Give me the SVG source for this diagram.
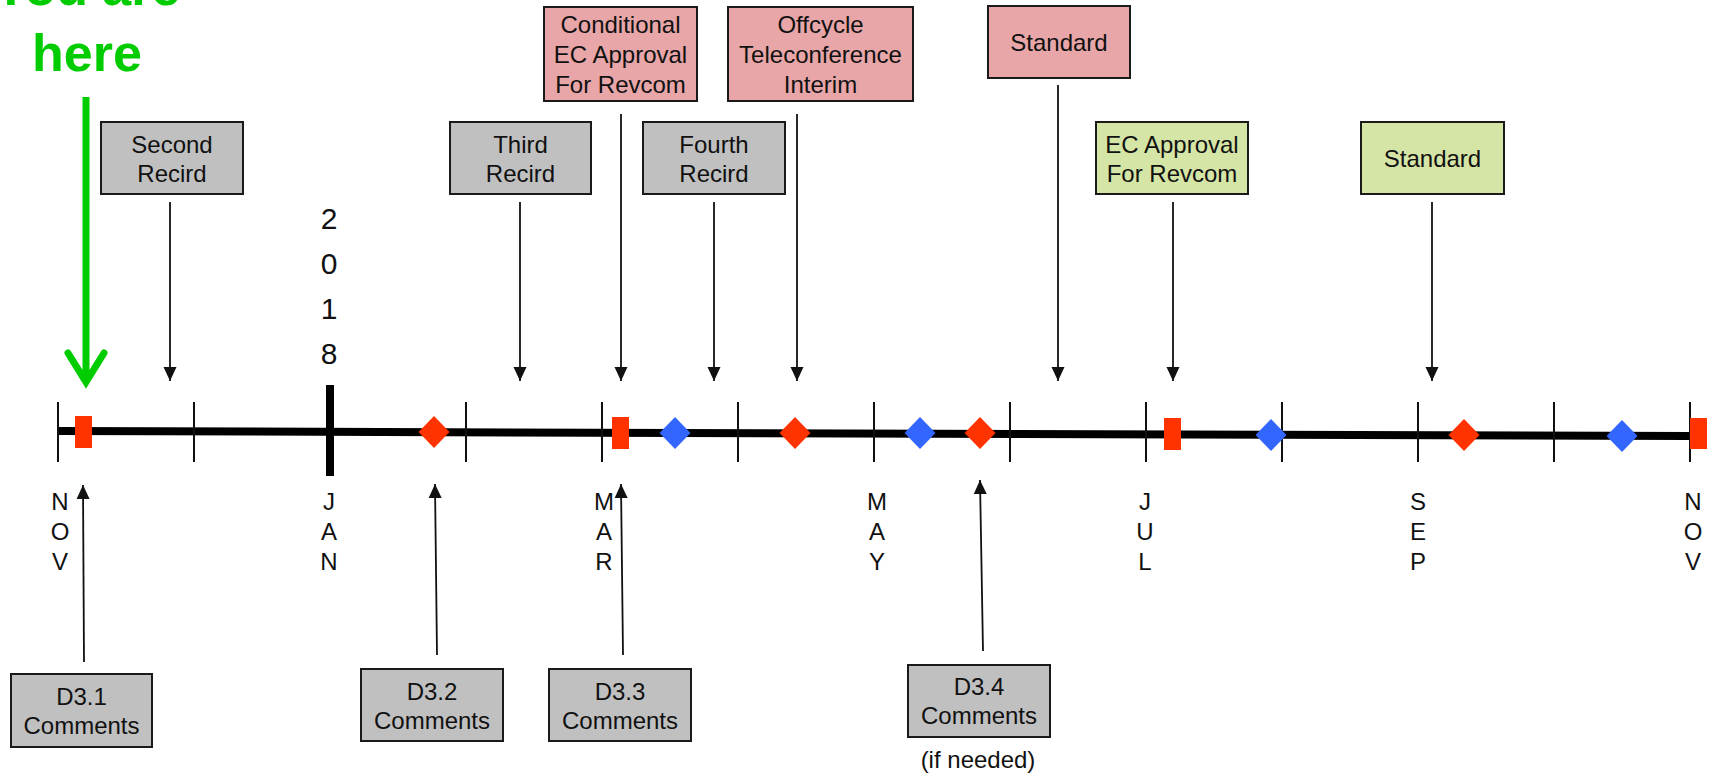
<svg xmlns="http://www.w3.org/2000/svg" width="1721" height="774" viewBox="0 0 1721 774">
<style>
.t{font-family:"Liberation Sans",Arial,sans-serif;font-size:24px;fill:#111;text-anchor:middle}
.gray{fill:#c0c0c0;stroke:#1a1a1a;stroke-width:2}
.pink{fill:#e8a6a8;stroke:#1a1a1a;stroke-width:2}
.green{fill:#d5e5a6;stroke:#1a1a1a;stroke-width:2}
.conn{stroke:#111;stroke-width:1.8;fill:none}
.tick{stroke:#111;stroke-width:2}
.red{fill:#ff3300}
.blue{fill:#3366ff}
.month{font-family:"Liberation Sans",Arial,sans-serif;font-size:24px;fill:#111;text-anchor:middle}
.yr{font-family:"Liberation Sans",Arial,sans-serif;font-size:30px;fill:#111;text-anchor:middle}
</style>
<defs>
<marker id="ah" markerUnits="userSpaceOnUse" markerWidth="14" markerHeight="14" viewBox="0 0 14 14" refX="14" refY="7" orient="auto">
<path d="M0,0.5 L14,7 L0,13.5 z" fill="#111"/>
</marker>
</defs>
<rect width="1721" height="774" fill="#fff"/>

<!-- You are here -->
<g id="you-are-here">
<text x="87" y="5" font-family="Liberation Sans,Arial,sans-serif" font-size="52" font-weight="bold" fill="#00cc00" text-anchor="middle">You are</text>
<text x="87" y="71" font-family="Liberation Sans,Arial,sans-serif" font-size="52" font-weight="bold" fill="#00cc00" text-anchor="middle">here</text>
<line x1="86" y1="97" x2="86" y2="380" stroke="#00cc00" stroke-width="7"/>
<polyline points="68,353 86,382 104,353" fill="none" stroke="#00cc00" stroke-width="7" stroke-linecap="round" stroke-linejoin="miter"/>
</g>

<!-- Timeline -->
<g id="timeline">
<line x1="58" y1="431" x2="1690" y2="436" stroke="#000" stroke-width="8"/>
<line class="tick" x1="58" y1="402" x2="58" y2="462"/>
<line class="tick" x1="194" y1="402" x2="194" y2="462"/>
<line x1="330" y1="385" x2="330" y2="476" stroke="#000" stroke-width="8"/>
<line class="tick" x1="466" y1="402" x2="466" y2="462"/>
<line class="tick" x1="602" y1="402" x2="602" y2="462"/>
<line class="tick" x1="738" y1="402" x2="738" y2="462"/>
<line class="tick" x1="874" y1="402" x2="874" y2="462"/>
<line class="tick" x1="1010" y1="402" x2="1010" y2="462"/>
<line class="tick" x1="1146" y1="402" x2="1146" y2="462"/>
<line class="tick" x1="1282" y1="402" x2="1282" y2="462"/>
<line class="tick" x1="1418" y1="402" x2="1418" y2="462"/>
<line class="tick" x1="1554" y1="402" x2="1554" y2="462"/>
<line class="tick" x1="1690" y1="402" x2="1690" y2="462"/>
</g>

<g id="year">
<text class="yr" x="329" y="229">2</text>
<text class="yr" x="329" y="274">0</text>
<text class="yr" x="329" y="319">1</text>
<text class="yr" x="329" y="364">8</text>
</g>

<!-- markers on the line -->
<g id="markers">
<rect class="red" x="75" y="416" width="17" height="32"/>
<polygon class="red" points="434,416 449.5,432 434,448 418.5,432"/>
<rect class="red" x="612" y="417" width="17" height="32"/>
<polygon class="blue" points="675,417 690.5,433 675,449 659.5,433"/>
<polygon class="red" points="795,417 810.5,433 795,449 779.5,433"/>
<polygon class="blue" points="920,417 935.5,433 920,449 904.5,433"/>
<polygon class="red" points="980,417 995.5,433 980,449 964.5,433"/>
<rect class="red" x="1164" y="418" width="17" height="32"/>
<polygon class="blue" points="1271,419 1286.5,435 1271,451 1255.5,435"/>
<polygon class="red" points="1464,419 1479.5,435 1464,451 1448.5,435"/>
<polygon class="blue" points="1622,420 1637.5,436 1622,452 1606.5,436"/>
<rect class="red" x="1690" y="418" width="17" height="31"/>
</g>

<!-- month labels -->
<g id="months">
<text class="month" x="60" y="510">N</text><text class="month" x="60" y="540">O</text><text class="month" x="60" y="570">V</text>
<text class="month" x="329" y="510">J</text><text class="month" x="329" y="540">A</text><text class="month" x="329" y="570">N</text>
<text class="month" x="604" y="510">M</text><text class="month" x="604" y="540">A</text><text class="month" x="604" y="570">R</text>
<text class="month" x="877" y="510">M</text><text class="month" x="877" y="540">A</text><text class="month" x="877" y="570">Y</text>
<text class="month" x="1145" y="510">J</text><text class="month" x="1145" y="540">U</text><text class="month" x="1145" y="570">L</text>
<text class="month" x="1418" y="510">S</text><text class="month" x="1418" y="540">E</text><text class="month" x="1418" y="570">P</text>
<text class="month" x="1693" y="510">N</text><text class="month" x="1693" y="540">O</text><text class="month" x="1693" y="570">V</text>
</g>

<!-- connectors -->
<g id="connectors">
<line class="conn" x1="170" y1="202" x2="170" y2="381" marker-end="url(#ah)"/>
<line class="conn" x1="520" y1="202" x2="520" y2="381" marker-end="url(#ah)"/>
<line class="conn" x1="621" y1="114" x2="621" y2="381" marker-end="url(#ah)"/>
<line class="conn" x1="714" y1="202" x2="714" y2="381" marker-end="url(#ah)"/>
<line class="conn" x1="797" y1="114" x2="797" y2="381" marker-end="url(#ah)"/>
<line class="conn" x1="1058" y1="85" x2="1058" y2="381" marker-end="url(#ah)"/>
<line class="conn" x1="1173" y1="202" x2="1173" y2="381" marker-end="url(#ah)"/>
<line class="conn" x1="1432" y1="202" x2="1432" y2="381" marker-end="url(#ah)"/>
<line class="conn" x1="84" y1="662" x2="83" y2="485" marker-end="url(#ah)"/>
<line class="conn" x1="437" y1="655" x2="435" y2="484" marker-end="url(#ah)"/>
<line class="conn" x1="623" y1="655" x2="621" y2="484" marker-end="url(#ah)"/>
<line class="conn" x1="983" y1="651" x2="980" y2="480" marker-end="url(#ah)"/>
</g>

<!-- top nodes -->
<g id="second-recird">
<rect class="gray" x="101" y="122" width="142" height="72"/>
<text class="t" x="172" y="153">Second</text><text class="t" x="172" y="182">Recird</text>
</g>
<g id="third-recird">
<rect class="gray" x="450" y="122" width="141" height="72"/>
<text class="t" x="520.5" y="153">Third</text><text class="t" x="520.5" y="182">Recird</text>
</g>
<g id="fourth-recird">
<rect class="gray" x="643" y="122" width="142" height="72"/>
<text class="t" x="714" y="153">Fourth</text><text class="t" x="714" y="182">Recird</text>
</g>
<g id="conditional-ec">
<rect class="pink" x="544" y="7" width="153" height="94"/>
<text class="t" x="620.5" y="33">Conditional</text><text class="t" x="620.5" y="63">EC Approval</text><text class="t" x="620.5" y="93">For Revcom</text>
</g>
<g id="offcycle">
<rect class="pink" x="728" y="7" width="185" height="94"/>
<text class="t" x="820.5" y="33">Offcycle</text><text class="t" x="820.5" y="63">Teleconference</text><text class="t" x="820.5" y="93">Interim</text>
</g>
<g id="standard-pink">
<rect class="pink" x="988" y="6" width="142" height="72"/>
<text class="t" x="1059" y="51">Standard</text>
</g>
<g id="ec-approval">
<rect class="green" x="1096" y="122" width="152" height="72"/>
<text class="t" x="1172" y="153">EC Approval</text><text class="t" x="1172" y="182">For Revcom</text>
</g>
<g id="standard-green">
<rect class="green" x="1361" y="122" width="143" height="72"/>
<text class="t" x="1432.5" y="167">Standard</text>
</g>

<!-- bottom nodes -->
<g id="d31">
<rect class="gray" x="11" y="674" width="141" height="73"/>
<text class="t" x="81.5" y="705">D3.1</text><text class="t" x="81.5" y="734">Comments</text>
</g>
<g id="d32">
<rect class="gray" x="361" y="669" width="142" height="72"/>
<text class="t" x="432" y="700">D3.2</text><text class="t" x="432" y="729">Comments</text>
</g>
<g id="d33">
<rect class="gray" x="549" y="669" width="142" height="72"/>
<text class="t" x="620" y="700">D3.3</text><text class="t" x="620" y="729">Comments</text>
</g>
<g id="d34">
<rect class="gray" x="908" y="665" width="142" height="72"/>
<text class="t" x="979" y="695">D3.4</text><text class="t" x="979" y="724">Comments</text>
<text class="t" x="978" y="768">(if needed)</text>
</g>
</svg>
